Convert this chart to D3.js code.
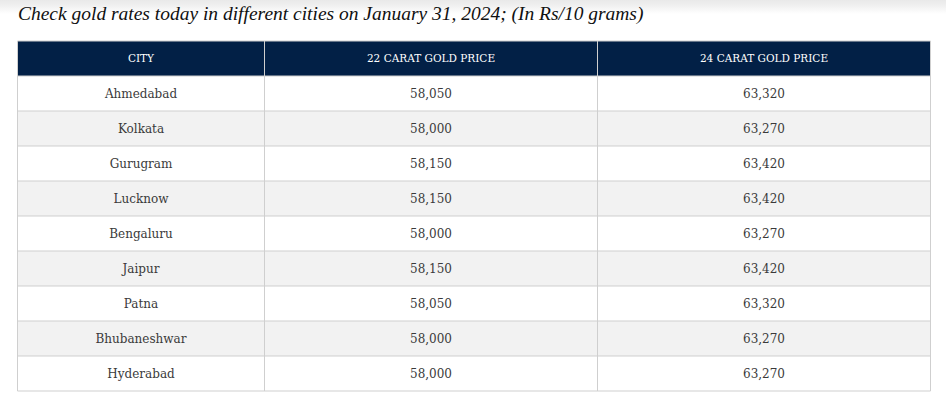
<!DOCTYPE html>
<html><head><meta charset="utf-8">
<script src="https://cdn.jsdelivr.net/npm/d3@7"></script>
<style>html,body{margin:0;padding:0;background:#fff;}svg{display:block;}</style>
</head><body>
<svg id="c" width="946" height="406"></svg>
<script>
const title = "Check gold rates today in different cities on January 31, 2024; (In Rs/10 grams)";
const headers = ["CITY", "22 CARAT GOLD PRICE", "24 CARAT GOLD PRICE"];
const cities = ["Ahmedabad","Kolkata","Gurugram","Lucknow","Bengaluru","Jaipur","Patna","Bhubaneshwar","Hyderabad"];
const gold22 = [58050,58000,58150,58150,58000,58150,58050,58000,58000];
const gold24 = [63320,63270,63420,63420,63270,63420,63320,63270,63270];

const svg = d3.select("#c");
const W = 946;

// top shadow
const defs = svg.append("defs");
const g = defs.append("linearGradient").attr("id","sh").attr("x1",0).attr("y1",0).attr("x2",0).attr("y2",1);
g.append("stop").attr("offset","0%").attr("stop-color","#e9e9e9");
g.append("stop").attr("offset","35%").attr("stop-color","#efefef");
g.append("stop").attr("offset","100%").attr("stop-color","#ffffff");
svg.append("rect").attr("x",0).attr("y",0).attr("width",W).attr("height",14).attr("fill","url(#sh)");

// title
const t = svg.append("text").attr("x",18).attr("y",20)
  .attr("font-family","'Liberation Serif', serif").attr("font-style","italic")
  .attr("font-size",18).attr("fill","#111").text(title);
const tl = t.node().getComputedTextLength();
t.attr("font-size", 18 * 626 / tl);

// scales
const colEdges = [17.5, 264.5, 597.5, 930.5];
const cols = d3.scaleOrdinal().domain([0,1,2]).range([0,1,2]);
const y = d3.scaleBand().domain(d3.range(cities.length + 1)).range([41, 391]).padding(0);
const fmt = d3.format(",");

const rows = cities.map((c,i) => [c, fmt(gold22[i]), fmt(gold24[i])]);

// header background
svg.append("rect").attr("x",colEdges[0]).attr("y",y(0)).attr("width",colEdges[3]-colEdges[0]).attr("height",y.bandwidth()).attr("fill","#022046");

// row backgrounds
svg.selectAll("rect.row").data(rows).join("rect").attr("class","row")
  .attr("x",colEdges[0]).attr("y",(d,i)=>y(i+1)).attr("width",colEdges[3]-colEdges[0]).attr("height",y.bandwidth())
  .attr("fill",(d,i)=> i%2 ? "#f2f2f2" : "#ffffff");

// grid lines
const gl = svg.append("g").attr("stroke","#cfcfcf").attr("stroke-width",1).attr("fill","none");
d3.range(1, cities.length + 2).forEach(i => {
  const yy = (i <= cities.length ? y(i) : y(cities.length) + y.bandwidth());
  gl.append("line").attr("x1",colEdges[0]).attr("x2",colEdges[3]).attr("y1",yy).attr("y2",yy);
});
gl.append("line").attr("x1",colEdges[0]).attr("x2",colEdges[3]).attr("y1",y(0)).attr("y2",y(0));
colEdges.forEach((x,j) => {
  gl.append("line").attr("x1",x).attr("x2",x).attr("y1",y(0)).attr("y2",391);
});

// header text
svg.selectAll("text.h").data(headers).join("text").attr("class","h")
  .attr("x",(d,j)=> (colEdges[cols(j)] + colEdges[cols(j)+1]) / 2)
  .attr("y", y(0) + y.bandwidth()/2).attr("dy","0.35em")
  .attr("text-anchor","middle").attr("fill","#ffffff")
  .attr("font-family","'DejaVu Serif', serif").attr("font-size",10.5)
  .text(d=>d);

// body text
rows.forEach((r,i) => {
  svg.selectAll("text.r"+i).data(r).join("text").attr("class","r"+i)
    .attr("x",(d,j)=> (colEdges[cols(j)] + colEdges[cols(j)+1]) / 2)
    .attr("y", y(i+1) + y.bandwidth()/2).attr("dy","0.35em")
    .attr("text-anchor","middle").attr("fill","#3a3a3a")
    .attr("font-family","'DejaVu Serif', serif").attr("font-size",12)
    .text(d=>d);
});
</script>
</body></html>
